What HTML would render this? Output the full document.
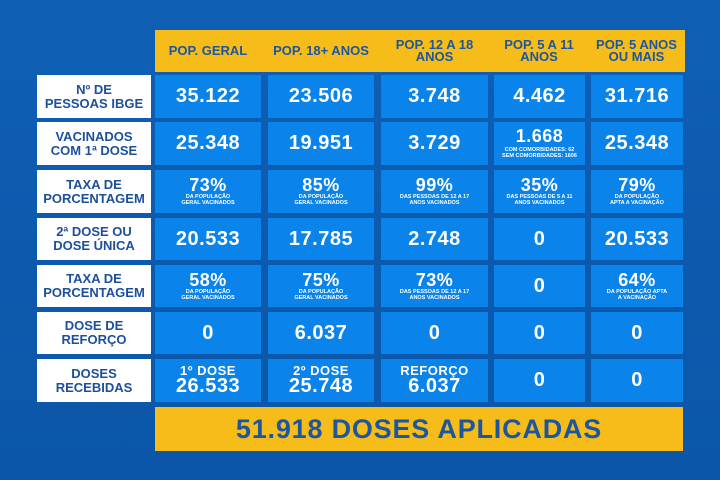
<!DOCTYPE html>
<html><head><meta charset="utf-8"><style>
*{margin:0;padding:0;box-sizing:border-box}
body{width:720px;height:480px;overflow:hidden;background:linear-gradient(180deg,#0e5fb5 0%,#0b56a8 100%);font-family:"Liberation Sans",sans-serif;font-weight:bold;position:relative}
.a{position:absolute;display:flex;flex-direction:column;align-items:center;justify-content:center;text-align:center}
.h{background:#f6bd1a;color:#1c56a0;font-size:13px;line-height:12px}
.l{background:#fff;color:#1c4f9c;font-size:13px;line-height:14px;left:37px;width:114px}
.c{background:#0a83ea;color:#fff;font-size:20px;line-height:19px;letter-spacing:0.5px}
.s{font-size:5.5px;line-height:6px;letter-spacing:0}
.p{font-size:18px;line-height:17px}
</style></head><body>
<div class="a h" style="left:155px;top:30px;width:528px;height:42px"></div>
<div class="a h" style="left:155px;top:30px;width:106px;height:42px">POP. GERAL</div>
<div class="a h" style="left:263px;top:30px;width:116px;height:42px">POP. 18+ ANOS</div>
<div class="a h" style="left:381px;top:30px;width:107px;height:42px">POP. 12 A 18<br>ANOS</div>
<div class="a h" style="left:493px;top:30px;width:92px;height:42px">POP. 5 A 11<br>ANOS</div>
<div class="a h" style="left:588px;top:30px;width:97px;height:42px">POP. 5 ANOS<br>OU MAIS</div>

<div class="a l" style="top:75px;height:43px">Nº DE<br>PESSOAS IBGE</div>
<div class="a l" style="top:122px;height:43px">VACINADOS<br>COM 1ª DOSE</div>
<div class="a l" style="top:170px;height:43px">TAXA DE<br>PORCENTAGEM</div>
<div class="a l" style="top:218px;height:42px">2ª DOSE OU<br>DOSE ÚNICA</div>
<div class="a l" style="top:265px;height:42px">TAXA DE<br>PORCENTAGEM</div>
<div class="a l" style="top:312px;height:42px">DOSE DE<br>REFORÇO</div>
<div class="a l" style="top:359px;height:43px">DOSES<br>RECEBIDAS</div>

<div class="a c" style="left:155px;top:75px;width:106px;height:43px">35.122</div>
<div class="a c" style="left:268px;top:75px;width:106px;height:43px">23.506</div>
<div class="a c" style="left:381px;top:75px;width:107px;height:43px">3.748</div>
<div class="a c" style="left:494px;top:75px;width:91px;height:43px">4.462</div>
<div class="a c" style="left:591px;top:75px;width:92px;height:43px">31.716</div>

<div class="a c" style="left:155px;top:122px;width:106px;height:43px">25.348</div>
<div class="a c" style="left:268px;top:122px;width:106px;height:43px">19.951</div>
<div class="a c" style="left:381px;top:122px;width:107px;height:43px">3.729</div>
<div class="a c" style="left:494px;top:122px;width:91px;height:43px"><span class="p">1.668</span><span class="s" style="margin-top:2px">COM COMORBIDADES: 62<br>SEM COMORBIDADES: 1606</span></div>
<div class="a c" style="left:591px;top:122px;width:92px;height:43px">25.348</div>

<div class="a c" style="left:155px;top:170px;width:106px;height:43px"><span class="p">73%</span><span class="s">DA POPULAÇÃO<br>GERAL VACINADOS</span></div>
<div class="a c" style="left:268px;top:170px;width:106px;height:43px"><span class="p">85%</span><span class="s">DA POPULAÇÃO<br>GERAL VACINADOS</span></div>
<div class="a c" style="left:381px;top:170px;width:107px;height:43px"><span class="p">99%</span><span class="s">DAS PESSOAS DE 12 A 17<br>ANOS VACINADOS</span></div>
<div class="a c" style="left:494px;top:170px;width:91px;height:43px"><span class="p">35%</span><span class="s">DAS PESSOAS DE 5 A 11<br>ANOS VACINADOS</span></div>
<div class="a c" style="left:591px;top:170px;width:92px;height:43px"><span class="p">79%</span><span class="s">DA POPULAÇÃO<br>APTA A VACINAÇÃO</span></div>

<div class="a c" style="left:155px;top:218px;width:106px;height:42px">20.533</div>
<div class="a c" style="left:268px;top:218px;width:106px;height:42px">17.785</div>
<div class="a c" style="left:381px;top:218px;width:107px;height:42px">2.748</div>
<div class="a c" style="left:494px;top:218px;width:91px;height:42px">0</div>
<div class="a c" style="left:591px;top:218px;width:92px;height:42px">20.533</div>

<div class="a c" style="left:155px;top:265px;width:106px;height:42px"><span class="p">58%</span><span class="s">DA POPULAÇÃO<br>GERAL VACINADOS</span></div>
<div class="a c" style="left:268px;top:265px;width:106px;height:42px"><span class="p">75%</span><span class="s">DA POPULAÇÃO<br>GERAL VACINADOS</span></div>
<div class="a c" style="left:381px;top:265px;width:107px;height:42px"><span class="p">73%</span><span class="s">DAS PESSOAS DE 12 A 17<br>ANOS VACINADOS</span></div>
<div class="a c" style="left:494px;top:265px;width:91px;height:42px">0</div>
<div class="a c" style="left:591px;top:265px;width:92px;height:42px"><span class="p">64%</span><span class="s">DA POPULAÇÃO APTA<br>A VACINAÇÃO</span></div>

<div class="a c" style="left:155px;top:312px;width:106px;height:42px">0</div>
<div class="a c" style="left:268px;top:312px;width:106px;height:42px">6.037</div>
<div class="a c" style="left:381px;top:312px;width:107px;height:42px">0</div>
<div class="a c" style="left:494px;top:312px;width:91px;height:42px">0</div>
<div class="a c" style="left:591px;top:312px;width:92px;height:42px">0</div>

<div class="a c" style="left:155px;top:359px;width:106px;height:43px"><span style="font-size:13px;line-height:12px">1º DOSE</span><span>26.533</span></div>
<div class="a c" style="left:268px;top:359px;width:106px;height:43px"><span style="font-size:13px;line-height:12px">2º DOSE</span><span>25.748</span></div>
<div class="a c" style="left:381px;top:359px;width:107px;height:43px"><span style="font-size:13px;line-height:12px">REFORÇO</span><span>6.037</span></div>
<div class="a c" style="left:494px;top:359px;width:91px;height:43px">0</div>
<div class="a c" style="left:591px;top:359px;width:92px;height:43px">0</div>

<div class="a h" style="left:155px;top:407px;width:528px;height:44px;font-size:27px;line-height:26px;letter-spacing:0.8px">51.918 DOSES APLICADAS</div>
</body></html>
